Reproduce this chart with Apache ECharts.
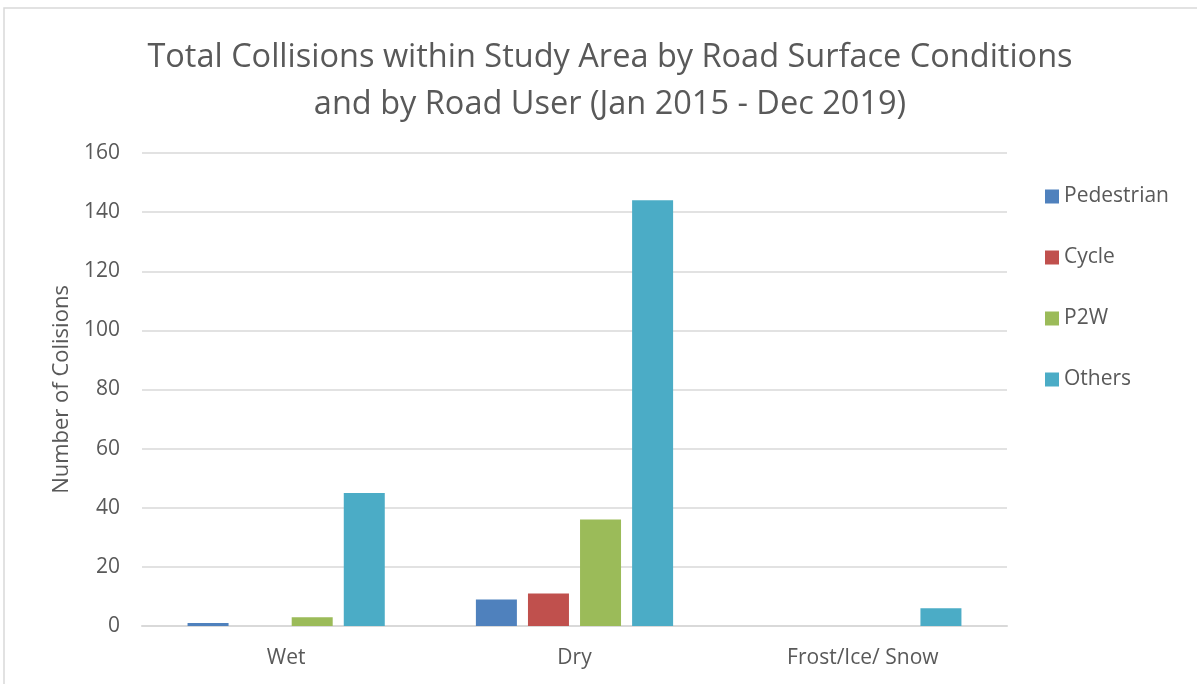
<!DOCTYPE html>
<html>
<head>
<meta charset="utf-8">
<script src="https://cdn.jsdelivr.net/npm/echarts@6/dist/echarts.min.js"></script>
<style>
html, body { margin: 0; padding: 0; background: #fff; }
#chart { width: 1197px; height: 684px; }
</style>
</head>
<body>
<div id="chart"></div>
<script>
var conditions = ['Wet', 'Dry', 'Frost/Ice/ Snow'];
var pedestrian = [1, 9, 0];
var cycle = [0, 11, 0];
var p2w = [3, 36, 0];
var others = [45, 144, 6];
var userNames = ['Pedestrian', 'Cycle', 'P2W', 'Others'];
var userColors = ['#4f81bd', '#c0504d', '#9bbb59', '#4bacc6'];

var myChart = echarts.init(document.getElementById('chart'));
var font = 'Open Sans';
var values = [pedestrian, cycle, p2w, others];

var series = userNames.map(function (name, i) {
    return {
        name: name,
        type: 'bar',
        data: values[i],
        barWidth: 41,
        barGap: '27%',
        itemStyle: { color: userColors[i] }
    };
});

var option = {
    animation: false,
    textStyle: { fontFamily: font },
    title: {
        text: 'Total Collisions within Study Area by Road Surface Conditions\nand by Road User (Jan 2015 - Dec 2019)',
        left: 605,
        textAlign: 'center',
        top: 29,
        textStyle: { fontFamily: font, fontSize: 32.5, fontWeight: 'normal', color: '#595959', lineHeight: 47 }
    },
    legend: {
        orient: 'vertical',
        left: 1040,
        top: 181,
        itemGap: 40,
        itemWidth: 14,
        itemHeight: 14,
        icon: 'rect',
        textStyle: { fontFamily: font, fontSize: 21, color: '#595959' },
        data: userNames
    },
    grid: { left: 142, right: 190, top: 153, bottom: 58 },
    xAxis: {
        type: 'category',
        data: conditions,
        axisLine: { lineStyle: { color: '#d9d9d9', width: 2 } },
        axisTick: { show: false },
        axisLabel: { fontFamily: font, fontSize: 21, color: '#595959', margin: 22 }
    },
    yAxis: {
        type: 'value',
        min: 0,
        max: 160,
        interval: 20,
        name: 'Number of Colisions',
        nameLocation: 'middle',
        nameGap: 68,
        nameTextStyle: { fontFamily: font, fontSize: 22, color: '#595959' },
        axisLine: { show: false },
        axisTick: { show: false },
        axisLabel: { fontFamily: font, fontSize: 21, color: '#595959', margin: 22 },
        splitLine: { lineStyle: { color: '#d9d9d9', width: 1.5 } }
    },
    graphic: [{
        type: 'polyline',
        shape: { points: [[4, 684], [4, 8], [1197, 8]] },
        style: { stroke: '#d9d9d9', fill: null, lineWidth: 1.5 },
        silent: true
    }],
    series: series
};

myChart.setOption(option);
</script>
</body>
</html>
